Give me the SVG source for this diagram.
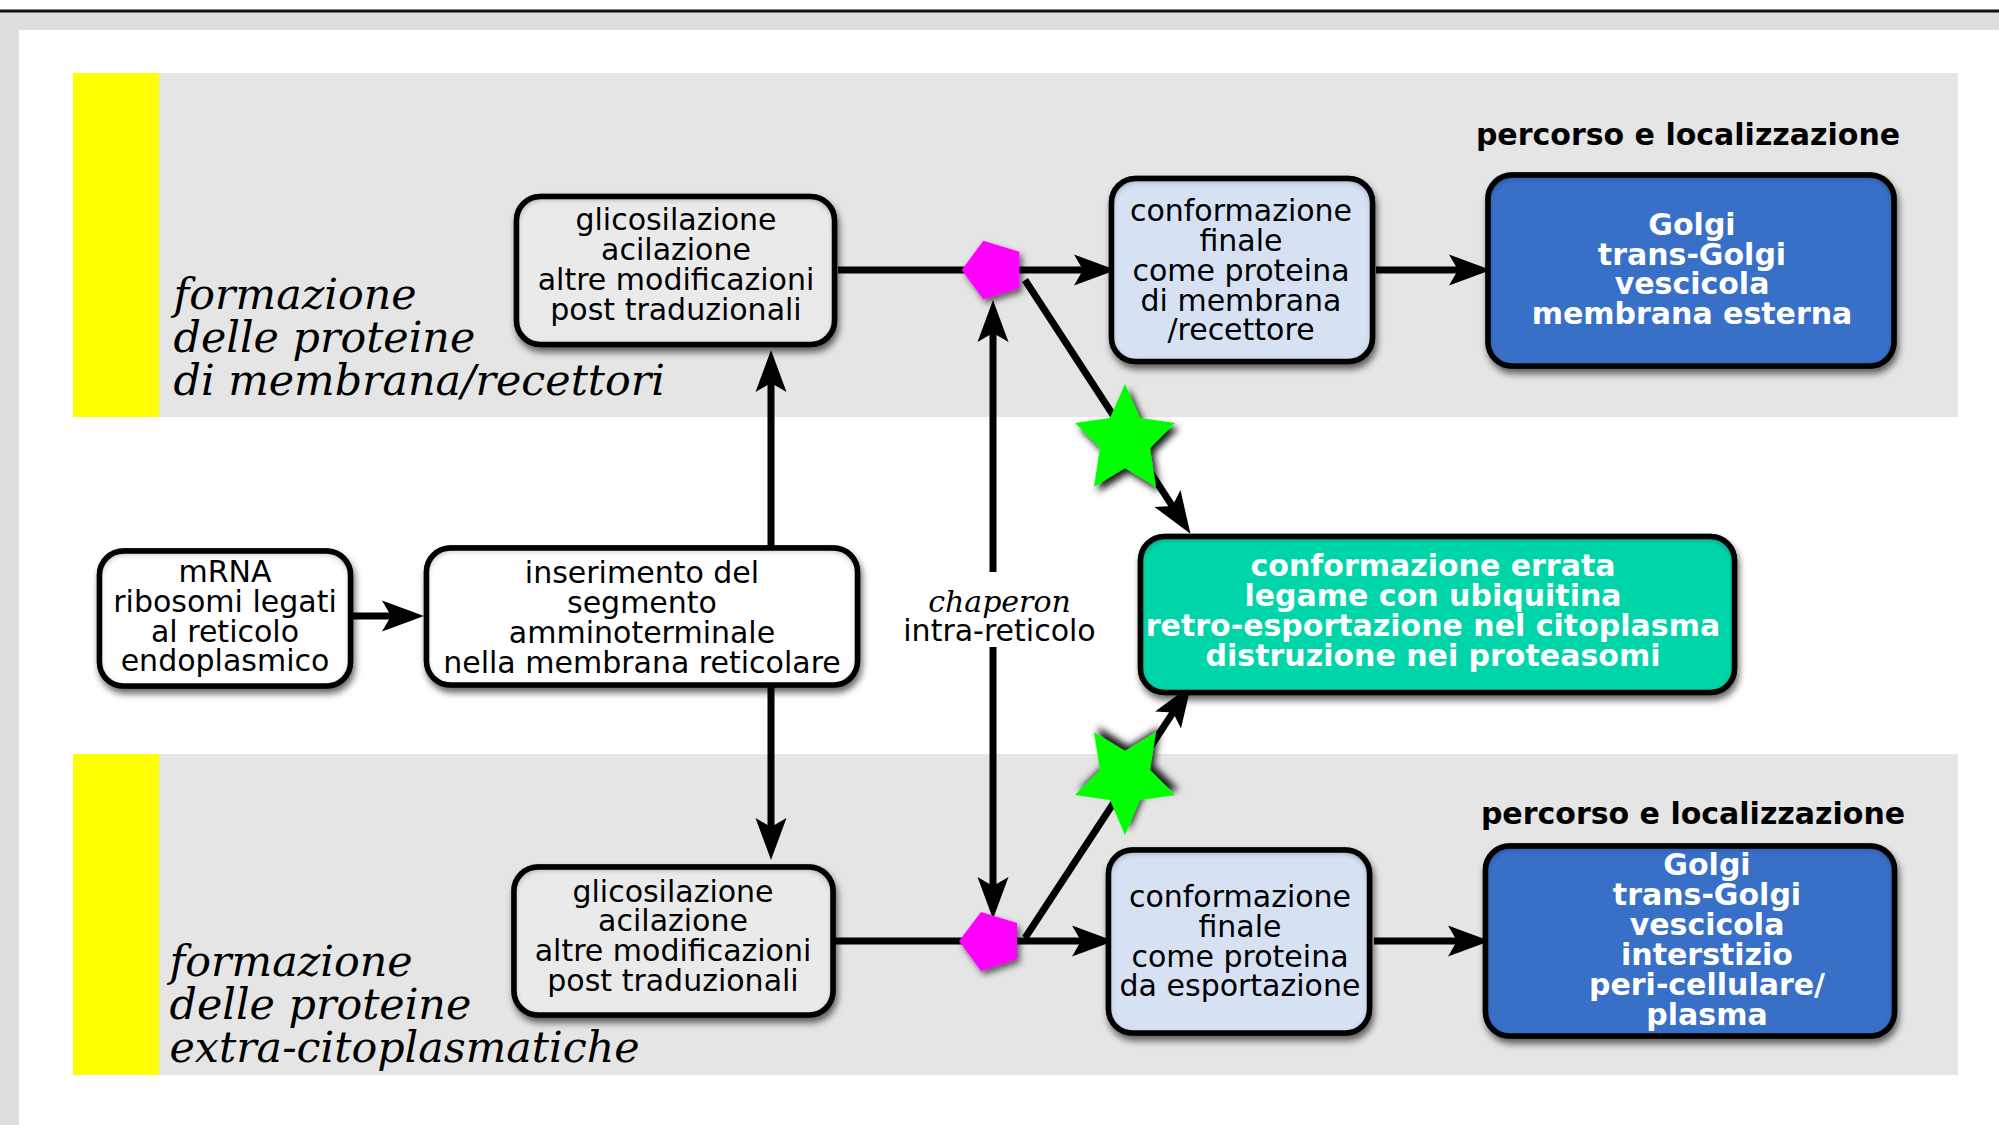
<svg xmlns="http://www.w3.org/2000/svg" width="1999" height="1125" viewBox="0 0 1999 1125">
<style>
text{font-family:"DejaVu Sans",sans-serif;font-size:30px;text-anchor:middle;fill:#000}
.b{font-weight:bold}
.w{font-weight:bold;fill:#fff}
.s{font-family:"DejaVu Serif",serif;font-style:italic}
.t{font-family:"DejaVu Serif",serif;font-style:italic;font-size:42.8px;text-anchor:start}
.box{stroke:#000;stroke-width:5.5;filter:url(#boxf)}
.c{stroke:#000;stroke-width:7;fill:none}
.h{marker-end:url(#head)}
</style>
<defs>
<marker id="head" markerUnits="userSpaceOnUse" markerWidth="44" markerHeight="34" viewBox="0 -17 44 34" refX="20" refY="0" orient="auto"><path d="M0,-15.5L42,0L0,15.5L9,0Z" fill="#000"/></marker>
<filter id="boxf" x="-10%" y="-15%" width="120%" height="130%">
<feGaussianBlur in="SourceAlpha" stdDeviation="3.5" result="b"/>
<feOffset in="b" dx="2" dy="5" result="o"/>
<feComponentTransfer in="o" result="sh"><feFuncA type="linear" slope="0.6"/></feComponentTransfer>
<feMorphology in="SourceAlpha" operator="erode" radius="3" result="e"/>
<feComponentTransfer in="e" result="inv"><feFuncA type="table" tableValues="1 0"/></feComponentTransfer>
<feGaussianBlur in="inv" stdDeviation="3" result="ib"/>
<feOffset in="ib" dx="0" dy="2" result="io"/>
<feComposite in="io" in2="SourceAlpha" operator="in" result="ic"/>
<feComponentTransfer in="ic" result="inner"><feFuncA type="linear" slope="0.7"/></feComponentTransfer>
<feMerge><feMergeNode in="sh"/><feMergeNode in="SourceGraphic"/><feMergeNode in="inner"/></feMerge>
</filter>
<filter id="down" x="-30%" y="-30%" width="160%" height="160%"><feDropShadow dx="4" dy="5" stdDeviation="3.5" flood-color="#000" flood-opacity="0.9"/></filter>
<filter id="up" x="-30%" y="-30%" width="160%" height="160%"><feDropShadow dx="4" dy="-5" stdDeviation="3.5" flood-color="#000" flood-opacity="0.9"/></filter>
<filter id="pent" x="-30%" y="-30%" width="160%" height="160%"><feDropShadow dx="3" dy="4" stdDeviation="3" flood-color="#000" flood-opacity="0.6"/></filter>
</defs>
<rect width="1999" height="1125" fill="#fff"/>
<g id="frame">
<rect x="0" y="12" width="1999" height="18" fill="#dedede"/>
<rect x="0" y="12" width="19" height="1113" fill="#dedede"/>
<rect x="0" y="9.5" width="1999" height="3" fill="#111"/>
</g>
<g id="bands">
<rect x="159" y="73" width="1799" height="344" fill="#e5e5e5"/>
<rect x="73" y="73" width="86" height="344" fill="#ff0"/>
<rect x="159" y="754" width="1799" height="321" fill="#e5e5e5"/>
<rect x="73" y="754" width="86" height="321" fill="#ff0"/>
<text class="t" x="173.5" y="308.5">formazione</text>
<text class="t" x="173.5" y="351.5">delle proteine</text>
<text class="t" x="173.5" y="394.5">di membrana/recettori</text>
<text class="t" x="169.5" y="975.5">formazione</text>
<text class="t" x="169.5" y="1018.5">delle proteine</text>
<text class="t" x="169.5" y="1061.5">extra-citoplasmatiche</text>
<text class="b" x="1688" y="145">percorso e localizzazione</text>
<text class="b" x="1693" y="824">percorso e localizzazione</text>
</g>
<g id="connectors">
<path class="c h" d="M352,616H402"/>
<path class="c h" d="M771,546V372"/>
<path class="c h" d="M771,686V838"/>
<path class="c h" d="M838,270H1094"/>
<path class="c h" d="M835,941H1092"/>
<path class="c h" d="M1376,270H1469"/>
<path class="c h" d="M1374,941H1468"/>
<path class="c h" d="M993,572V322"/>
<path class="c h" d="M993,647V897"/>
<path class="c h" d="M1025,280L1178.4,515.3"/>
<path class="c h" d="M1025,938L1179,703.3"/>
</g>
<g id="pentagon-top"><polygon points="961.7,270 983.3,240.7 1019.3,251.7 1019.3,288.3 983.3,299.3" fill="#f0f" filter="url(#pent)"/></g>
<g id="pentagon-bottom"><polygon points="959,941 981,912 1017,923 1017,959 981,971" fill="#f0f" filter="url(#pent)"/></g>
<g id="star-top"><polygon points="1125,384 1140,418 1175,423 1150,448 1156,487 1125,468 1094,487 1100,448 1075,423 1110,418" fill="#0f0" filter="url(#down)"/></g>
<g id="star-bottom"><polygon points="1125,835 1140,800 1175,795 1150,770 1156,732 1125,751 1094,732 1100,770 1075,795 1110,800" fill="#0f0" filter="url(#up)"/></g>
<g id="mrna">
<rect class="box" x="99.5" y="551" width="251" height="135" rx="24" fill="#fff"/>
<text x="225" y="582">mRNA</text><text x="225" y="612">ribosomi legati</text><text x="225" y="642">al reticolo</text><text x="225" y="671">endoplasmico</text>
</g>
<g id="inserimento">
<rect class="box" x="426.5" y="548" width="431" height="137" rx="24" fill="#fff"/>
<text x="642" y="583">inserimento del</text><text x="642" y="613">segmento</text><text x="642" y="643">amminoterminale</text><text x="642" y="672.5">nella membrana reticolare</text>
</g>
<g id="glicosilazione-top">
<rect class="box" x="516.5" y="196.5" width="318" height="148" rx="24" fill="#eaeaea"/>
<text x="676" y="230">glicosilazione</text><text x="676" y="260">acilazione</text><text x="676" y="290">altre modificazioni</text><text x="676" y="319.5">post traduzionali</text>
</g>
<g id="glicosilazione-bottom">
<rect class="box" x="514" y="867" width="319" height="148" rx="24" fill="#eaeaea"/>
<text x="673" y="901.5">glicosilazione</text><text x="673" y="931">acilazione</text><text x="673" y="961">altre modificazioni</text><text x="673" y="990.5">post traduzionali</text>
</g>
<g id="conformazione-top">
<rect class="box" x="1111.5" y="178.5" width="261" height="183" rx="24" fill="#d6e1f4"/>
<text x="1241" y="220.5">conformazione</text><text x="1241" y="250.5">finale</text><text x="1241" y="280.5">come proteina</text><text x="1241" y="310.5">di membrana</text><text x="1241" y="340">/recettore</text>
</g>
<g id="conformazione-bottom">
<rect class="box" x="1108.5" y="850" width="261" height="183" rx="24" fill="#d6e1f4"/>
<text x="1240" y="906.5">conformazione</text><text x="1240" y="936.5">finale</text><text x="1240" y="966.5">come proteina</text><text x="1240" y="996">da esportazione</text>
</g>
<g id="golgi-top">
<rect class="box" x="1488" y="175" width="406" height="191" rx="24" fill="#3970c8"/>
<text class="w" x="1692" y="234.5">Golgi</text><text class="w" x="1692" y="264.5">trans-Golgi</text><text class="w" x="1692" y="294">vescicola</text><text class="w" x="1692" y="324">membrana esterna</text>
</g>
<g id="golgi-bottom">
<rect class="box" x="1485.5" y="846" width="409" height="190" rx="24" fill="#3970c8"/>
<text class="w" x="1707" y="875">Golgi</text><text class="w" x="1707" y="905">trans-Golgi</text><text class="w" x="1707" y="935">vescicola</text><text class="w" x="1707" y="965">interstizio</text><text class="w" x="1707" y="995">peri-cellulare/</text><text class="w" x="1707" y="1024.5">plasma</text>
</g>
<g id="errata">
<rect class="box" x="1140.5" y="536.5" width="594" height="156" rx="24" fill="#00d5a9"/>
<text class="w" x="1433" y="576">conformazione errata</text><text class="w" x="1433" y="606">legame con ubiquitina</text><text class="w" x="1433" y="636">retro-esportazione nel citoplasma</text><text class="w" x="1433" y="665.5">distruzione nei proteasomi</text>
</g>
<g id="chaperon">
<text class="s" x="999.5" y="611.5">chaperon</text><text x="999.5" y="641">intra-reticolo</text>
</g>
</svg>
